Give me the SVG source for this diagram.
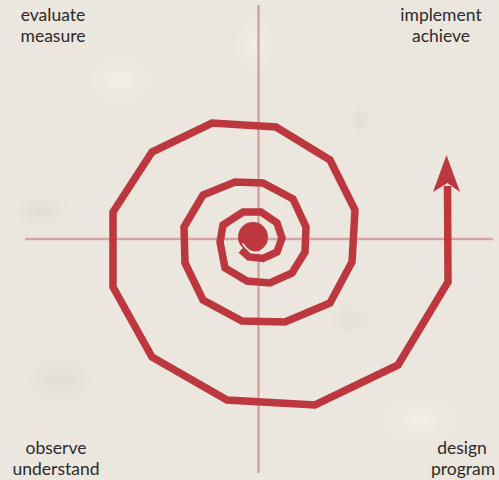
<svg xmlns="http://www.w3.org/2000/svg" width="499" height="480" viewBox="0 0 499 480">
  <defs>
    <style>
      .lbl { font-family: "Lato", "Open Sans", "DejaVu Sans", sans-serif; font-size: 17.5px; fill: #2b2b2b; text-anchor: middle; }
      .axis { stroke: #d9a2a2; stroke-width: 2.5; fill: none; }
      .spiral { stroke: #bc383e; stroke-width: 7.5; fill: none; stroke-linejoin: miter; stroke-miterlimit: 4; }
    </style>
    <radialGradient id="blob" cx="50%" cy="50%" r="50%">
      <stop offset="0" stop-color="#ffffff" stop-opacity="0.3"/>
      <stop offset="1" stop-color="#ffffff" stop-opacity="0"/>
    </radialGradient>
    <radialGradient id="dblob" cx="50%" cy="50%" r="50%">
      <stop offset="0" stop-color="#c9c4bc" stop-opacity="0.25"/>
      <stop offset="1" stop-color="#c9c4bc" stop-opacity="0"/>
    </radialGradient>
  </defs>
  <rect x="0" y="0" width="499" height="480" fill="#ebe6de"/>
  <g id="texture">
    <ellipse cx="255" cy="45" rx="22" ry="30" fill="url(#blob)"/>
    <ellipse cx="360" cy="120" rx="14" ry="18" fill="url(#dblob)"/>
    <ellipse cx="40" cy="210" rx="30" ry="20" fill="url(#dblob)"/>
    <ellipse cx="350" cy="320" rx="25" ry="18" fill="url(#dblob)"/>
    <ellipse cx="120" cy="80" rx="35" ry="25" fill="url(#blob)"/>
    <ellipse cx="420" cy="420" rx="40" ry="25" fill="url(#blob)"/>
    <ellipse cx="60" cy="380" rx="40" ry="30" fill="url(#dblob)"/>
  </g>
  <g id="axes">
    <line class="axis" x1="25" y1="239" x2="493" y2="239"/>
    <line class="axis" x1="258.5" y1="5" x2="258.5" y2="473"/>
  </g>
  <g id="connectors">
    <polyline class="spiral" points="447.5,186 448,282 398,365 315,405 227,400 152,357 113,287 113,212 152,152 212,123 276,127 330,160 355,210 352,262 330,303 285,322 242,321 203,300 185,263 184,227 203,195 235,182 263,183 293,199 306,227 305,252 292,273 270,283 247,281 225,268 220,242 223,225 243,212 261,212 277,223 282,238 277,252 263,258.5 249,257 241,250"/>
    <circle cx="253" cy="237" r="15" fill="#bc383e"/>
    <path d="M243,244 Q250,256 266,251.5" fill="none" stroke="#ebe6de" stroke-width="1.6" stroke-linecap="round"/>
    <polygon points="446.5,155 460,192 447.5,183 433,192" fill="#bc383e"/>
  </g>
  <g id="label-evaluate">
    <text class="lbl" x="53" y="21">evaluate</text>
    <text class="lbl" x="53" y="42">measure</text>
  </g>
  <g id="label-implement">
    <text class="lbl" x="441" y="21">implement</text>
    <text class="lbl" x="441" y="42">achieve</text>
  </g>
  <g id="label-observe">
    <text class="lbl" x="56" y="454">observe</text>
    <text class="lbl" x="56" y="474.5">understand</text>
  </g>
  <g id="label-design">
    <text class="lbl" x="462" y="454">design</text>
    <text class="lbl" x="463" y="474.5">program</text>
  </g>
</svg>
